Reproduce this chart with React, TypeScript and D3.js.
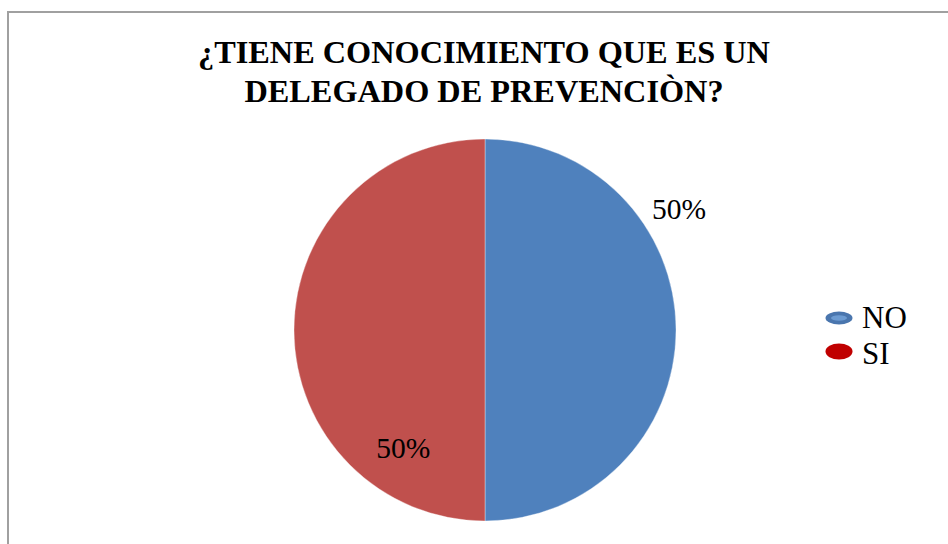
import React, { useRef, useEffect } from 'react';
import * as d3 from 'd3';

// chart data
const categories = ['NO', 'SI'];
const values = [50, 50];
const sliceColors = ['#4F81BD', '#C0504D'];
const legendColors = ['#4A76AE', '#C00000'];
const titleLines = ['¿TIENE CONOCIMIENTO QUE ES UN', 'DELEGADO DE PREVENCIÒN?'];

const width = 948;
const height = 544;
const serif = '"Liberation Serif", "Times New Roman", serif';

const App: React.FC = () => {
    const svgRef = useRef<SVGSVGElement | null>(null);

    useEffect(() => {
        if (!svgRef.current) return;

        const svg = d3.select(svgRef.current)
            .attr('width', width)
            .attr('height', height);

        svg.selectAll('*').remove();

        // chart area border (runs off right/bottom)
        svg.append('rect')
            .attr('x', 8)
            .attr('y', 12)
            .attr('width', width + 20)
            .attr('height', height + 20)
            .attr('fill', 'white')
            .attr('stroke', '#A0A0A0')
            .attr('stroke-width', 2);

        // title
        const title = svg.append('text')
            .attr('text-anchor', 'middle')
            .style('font-family', serif)
            .attr('font-weight', 'bold')
            .attr('font-size', 32.3)
            .attr('fill', 'black');
        titleLines.forEach((line, i) => {
            title.append('tspan')
                .attr('x', 484)
                .attr('y', 63 + i * 39)
                .text(line);
        });

        const cx = 485;
        const cy = 330;
        const radius = 191;

        const pie = d3.pie<number>()
            .sort(null)
            .startAngle(0)
            .endAngle(2 * Math.PI);
        const arcs = pie(values);

        const arc = d3.arc<d3.PieArcDatum<number>>()
            .innerRadius(0)
            .outerRadius(radius);

        const g = svg.append('g')
            .attr('transform', `translate(${cx},${cy})`);

        g.selectAll('.slice')
            .data(arcs)
            .enter().append('path')
            .attr('class', 'slice')
            .attr('d', arc)
            .attr('fill', (_, i) => sliceColors[i])
            .attr('stroke', 'white')
            .attr('stroke-opacity', 0.35)
            .attr('stroke-width', 1);

        // labels placed "best fit" like the original
        const total = d3.sum(values);
        const labelPlacement = [
            { angle: 1.01, dist: 229 },
            { angle: 3.75, dist: 143 },
        ];
        g.selectAll('.slice-label')
            .data(arcs)
            .enter().append('text')
            .attr('class', 'slice-label')
            .attr('x', (_, i) => Math.sin(labelPlacement[i].angle) * labelPlacement[i].dist)
            .attr('y', (_, i) => -Math.cos(labelPlacement[i].angle) * labelPlacement[i].dist)
            .attr('dy', '0.35em')
            .attr('text-anchor', 'middle')
            .style('font-family', serif)
            .attr('font-size', 29.5)
            .attr('fill', 'black')
            .text(d => `${Math.round((d.value / total) * 100)}%`);

        // legend
        const legend = svg.append('g')
            .attr('transform', 'translate(839, 318)');

        const items = legend.selectAll('.legend-item')
            .data(categories)
            .enter().append('g')
            .attr('class', 'legend-item')
            .attr('transform', (_, i) => `translate(0, ${i * 33.5})`);

        items.append('ellipse')
            .attr('rx', 13.5)
            .attr('ry', (_, i) => (i === 0 ? 6.5 : 8))
            .attr('fill', (_, i) => legendColors[i]);

        // lighter inner highlight on the blue marker
        items.filter((_, i) => i === 0)
            .append('ellipse')
            .attr('rx', 8)
            .attr('ry', 2.8)
            .attr('fill', '#6C9BD2');

        items.append('text')
            .attr('x', 23)
            .attr('y', (_, i) => 10 + i * 2.5)
            .style('font-family', serif)
            .attr('font-size', 31)
            .attr('fill', 'black')
            .text(d => d);
    }, []);

    return <svg ref={svgRef} style={{ position: 'absolute', left: 0, top: 0 }}></svg>;
};

export default App;
